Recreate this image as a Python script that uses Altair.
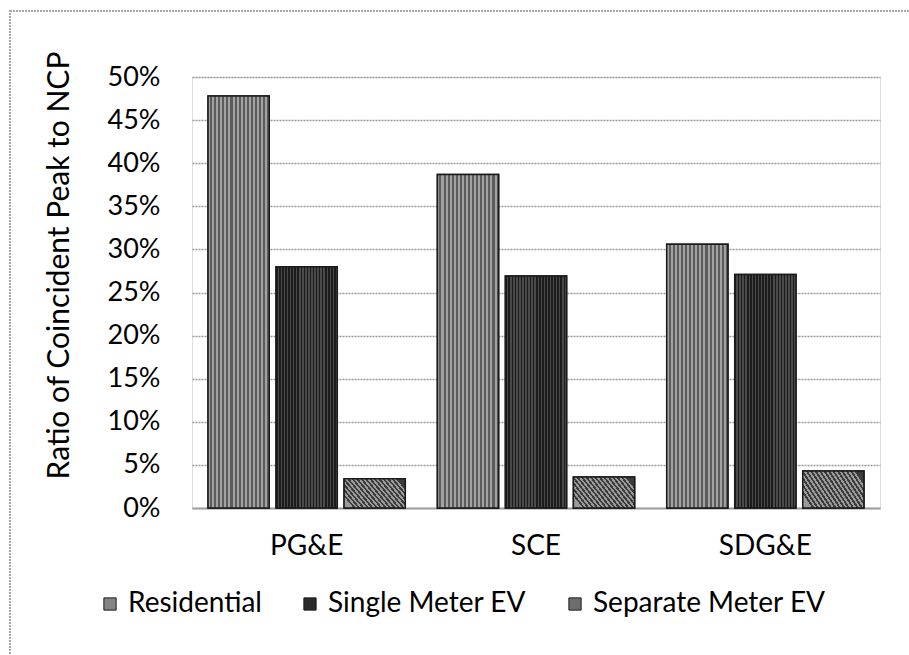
import altair as alt
import pandas as pd

utilities = ["PG&E", "SCE", "SDG&E"]
series = ["Residential", "Single Meter EV", "Separate Meter EV"]
residential = [0.478, 0.387, 0.306]
single_meter = [0.280, 0.269, 0.271]
separate_meter = [0.034, 0.036, 0.043]
colors = ["#848484", "#2a2a2a", "#6e6e6e"]

rows = []
for i, u in enumerate(utilities):
    for s, vals in zip(series, [residential, single_meter, separate_meter]):
        rows.append({"utility": u, "series": s, "value": vals[i]})
df = pd.DataFrame(rows)

FONT = "Lato"


def stripes(c1, c2, n, x1, y1, x2, y2):
    stops = []
    for k in range(n):
        a = k / n
        b = (k + 0.5) / n
        c = (k + 1) / n
        stops += [alt.GradientStop(offset=a, color=c1), alt.GradientStop(offset=b, color=c1),
                  alt.GradientStop(offset=b, color=c2), alt.GradientStop(offset=c, color=c2)]
    return alt.LinearGradient(gradient="linear", stops=stops, x1=x1, y1=y1, x2=x2, y2=y2)


patterns = {
    "Residential": stripes("#a2a2a2", "#5c5c5c", 15, 0, 0, 1, 0),
    "Single Meter EV": stripes("#1c1c1c", "#4a4a4a", 20, 0, 0, 1, 0),
    "Separate Meter EV": stripes("#9a9a9a", "#3c3c3c", 16, 0, 0.7, 1, 0.3),
}

x_enc = alt.X("utility:N", sort=utilities, title=None,
              scale=alt.Scale(paddingInner=0.14, paddingOuter=0.07),
              axis=alt.Axis(labelAngle=0, labelFontSize=28, labelFont=FONT, labelColor="#000",
                            ticks=False, domainColor="#a0a0a0", domainWidth=2, labelPadding=24))
xo_enc = alt.XOffset("series:N", sort=series, scale=alt.Scale(paddingInner=0.1))
y_enc = alt.Y("value:Q", title="Ratio of Coincident Peak to NCP",
              scale=alt.Scale(domain=[0, 0.5]),
              axis=alt.Axis(format=".0%", values=[i / 100 for i in range(0, 55, 5)],
                            labelFontSize=27, labelFont=FONT, labelColor="#000",
                            titleFontSize=30, titleFont=FONT, titleFontWeight="normal", titleColor="#000",
                            ticks=False, domain=False, labelPadding=32, titlePadding=33,
                            titleY=188,
                            gridColor="#9a9a9a", gridDash=[2, 1], gridWidth=1.5))

base = alt.Chart(df).mark_bar(stroke="#1a1a1a", strokeWidth=1.5).encode(
    x=x_enc, xOffset=xo_enc, y=y_enc,
    color=alt.Color("series:N", sort=series,
                    scale=alt.Scale(domain=series, range=colors),
                    legend=alt.Legend(title=None, orient="none", direction="horizontal",
                                      legendX=-96, legendY=513, labelFontSize=28, labelFont=FONT,
                                      labelColor="#000", labelLimit=0, symbolType="square", symbolSize=150,
                                      symbolStrokeColor="#1a1a1a", symbolStrokeWidth=1,
                                      columnPadding=34, labelOffset=4)),
)

overlays = [
    alt.Chart(df).transform_filter(alt.datum.series == s).mark_bar(
        fill=patterns[s], stroke="#1a1a1a", strokeWidth=1.5
    ).encode(x=x_enc, xOffset=xo_enc, y=y_enc)
    for s in series
]

frame = alt.Chart(df).mark_rect(fill=None, stroke="#a8a8a8", strokeWidth=1.5, strokeDash=[2, 1]).encode(
    x=alt.value(-182), x2=alt.value(760), y=alt.value(-66), y2=alt.value(620)
)

chart = alt.layer(frame, base, *overlays).properties(
    width=688, height=431,
    autosize=alt.AutoSizeParams(type="none"),
    padding={"left": 192, "top": 77, "right": 29, "bottom": 147},
).configure_view(strokeWidth=0).configure(background="white")

chart.save("out.html", embed_options={"renderer": "svg", "actions": False})
